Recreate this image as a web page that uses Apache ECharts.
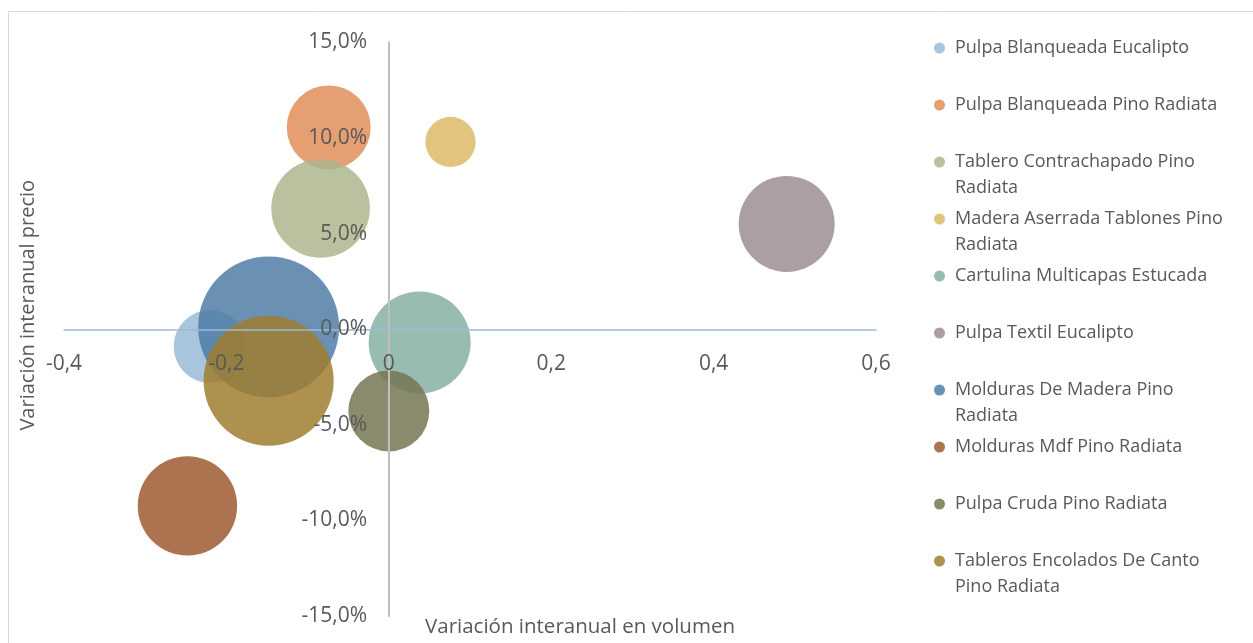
<!DOCTYPE html>
<html>
<head>
<meta charset="utf-8">
<script src="https://cdn.jsdelivr.net/npm/echarts@6/dist/echarts.min.js"></script>
<style>
  html, body { margin: 0; padding: 0; background: #fff; }
  #chart { width: 1253px; height: 643px; }
</style>
</head>
<body>
<div id="chart"></div>
<script>
// productos
const names = [
  'Pulpa Blanqueada Eucalipto',
  'Pulpa Blanqueada Pino Radiata',
  'Tablero Contrachapado Pino Radiata',
  'Madera Aserrada Tablones Pino Radiata',
  'Cartulina Multicapas Estucada',
  'Pulpa Textil Eucalipto',
  'Molduras De Madera Pino Radiata',
  'Molduras Mdf Pino Radiata',
  'Pulpa Cruda Pino Radiata',
  'Tableros Encolados De Canto Pino Radiata'
]
// texto de la leyenda, partido en líneas
const legendLines = [
  ['Pulpa Blanqueada Eucalipto'],
  ['Pulpa Blanqueada Pino Radiata'],
  ['Tablero Contrachapado Pino', 'Radiata'],
  ['Madera Aserrada Tablones Pino', 'Radiata'],
  ['Cartulina Multicapas Estucada'],
  ['Pulpa Textil Eucalipto'],
  ['Molduras De Madera Pino', 'Radiata'],
  ['Molduras Mdf Pino Radiata'],
  ['Pulpa Cruda Pino Radiata'],
  ['Tableros Encolados De Canto', 'Pino Radiata']
]
// variación interanual en volumen
const volumeVar = [-0.220, -0.074, -0.084, 0.076, 0.038, 0.490, -0.148, -0.248, 0.0, -0.148]
// variación interanual precio (%)
const priceVar = [-0.90, 10.56, 6.32, 9.80, -0.69, 5.51, 0.12, -9.24, -4.27, -2.69]
// tamaño de burbuja
const bubbleSize = [13.3, 17.6, 24.3, 6.3, 26.0, 23.0, 49.7, 24.7, 16.4, 42.3]

const colors = [
  'rgba(154,187,215,0.85)',
  'rgba(224,142,89,0.85)',
  'rgba(173,182,142,0.85)',
  'rgba(221,186,104,0.85)',
  'rgba(134,176,164,0.85)',
  'rgba(156,142,144,0.85)',
  'rgba(80,126,167,0.85)',
  'rgba(158,91,51,0.85)',
  'rgba(117,119,84,0.85)',
  'rgba(160,126,48,0.85)'
]

const xTicks = { min: -0.4, max: 0.6, interval: 0.2 }
const yTicks = { min: -15, max: 15, interval: 5 }

const fontFamily = 'Open Sans'
const textColor = '#595959'
const maxSize = Math.max(...bubbleSize)
const maxDiameter = 141
const lineH = 25.5

// rejilla y cruce de ejes en (0, 0)
const gridBox = { left: 64, right: 377, top: 42.5, bottom: 27 }
const zeroX = 389
const zeroY = 329.3

const chart = echarts.init(document.getElementById('chart'))

const series = names.map((name, i) => ({
  name,
  type: 'scatter',
  data: [[volumeVar[i], priceVar[i], bubbleSize[i]]],
  symbolSize: (val) => maxDiameter * Math.sqrt(val[2] / maxSize),
  itemStyle: { color: colors[i], opacity: 1 },
  emphasis: { disabled: true }
}))

// una leyenda por producto; la línea en blanco inicial deja el punto en la primera línea
const legends = names.map((name, i) => {
  const lines = legendLines[i]
  const twoLines = lines.length > 1
  return {
    data: [name],
    orient: 'vertical',
    left: 934,
    top: 48 + i * 57 - (twoLines ? lineH * 1.5 : lineH / 2),
    padding: 0,
    icon: 'circle',
    itemWidth: 21,
    itemHeight: 11,
    selectedMode: false,
    formatter: () => (twoLines ? '\n' + lines.join('\n') : lines[0]),
    textStyle: {
      fontFamily,
      fontSize: 18,
      color: textColor,
      lineHeight: lineH
    }
  }
})

const option = {
  animation: false,
  textStyle: { fontFamily },
  graphic: [{
    type: 'rect',
    shape: { x: 8.5, y: 11.5, width: 1300, height: 700 },
    style: { fill: 'none', stroke: '#d9d9d9', lineWidth: 1 },
    silent: true
  }],
  grid: {
    ...gridBox,
    containLabel: false,
    outerBoundsMode: 'none'
  },
  legend: legends,
  xAxis: {
    type: 'value',
    min: xTicks.min,
    max: xTicks.max,
    interval: xTicks.interval,
    position: 'bottom',
    offset: -(643 - gridBox.bottom - zeroY),
    z: 5,
    name: 'Variación interanual en volumen',
    nameLocation: 'middle',
    nameGap: 287,
    nameTextStyle: { fontFamily, fontSize: 20.5, color: textColor, padding: [0, 0, 0, 220] },
    axisLine: { onZero: false, lineStyle: { color: '#9dbbd6', width: 1.5 } },
    axisTick: { show: false },
    splitLine: { show: false },
    axisLabel: {
      margin: 24,
      fontFamily,
      fontSize: 21,
      color: textColor,
      formatter: (v) => (Math.abs(v) < 1e-9 ? '0' : String(+v.toFixed(1)).replace('.', ','))
    }
  },
  yAxis: {
    type: 'value',
    min: yTicks.min,
    max: yTicks.max,
    interval: yTicks.interval,
    position: 'left',
    offset: -(zeroX - gridBox.left),
    z: 5,
    name: 'Variación interanual precio',
    nameLocation: 'middle',
    nameGap: 351,
    nameTextStyle: { fontFamily, fontSize: 20, color: textColor, padding: [0, 0, 0, 48] },
    axisLine: { onZero: false, lineStyle: { color: '#bfbfbf', width: 2 } },
    axisTick: { show: false },
    splitLine: { show: false },
    axisLabel: {
      margin: 22,
      fontFamily,
      fontSize: 21,
      color: textColor,
      formatter: (v) => v.toFixed(1).replace('.', ',') + '%'
    }
  },
  series
}

chart.setOption(option)
</script>
</body>
</html>
